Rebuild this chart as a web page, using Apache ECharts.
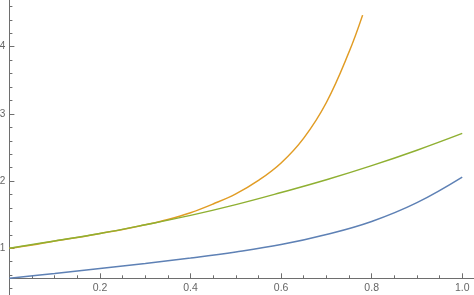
<!DOCTYPE html>
<html>
<head>
<meta charset="utf-8">
<script src="https://cdn.jsdelivr.net/npm/echarts@6/dist/echarts.min.js"></script>
<style>
html,body{margin:0;padding:0;background:#fff;}
#c{width:474px;height:295px;}
</style>
</head>
<body>
<div id="c"></div>
<script>
const xTicks = [0.2, 0.4, 0.6, 0.8, 1.0];
const yTicks = [1, 2, 3, 4];

const blueX   = [0, 0.1, 0.2, 0.3, 0.4, 0.5, 0.6, 0.7, 0.8, 0.9, 1.0];
const blueY   = [0.553, 0.625, 0.70, 0.775, 0.855, 0.945, 1.055, 1.205, 1.40, 1.68, 2.06];

const orangeX = [0, 0.05, 0.1, 0.15, 0.2, 0.25, 0.3, 0.35, 0.4, 0.45, 0.5, 0.55, 0.6, 0.65, 0.7, 0.75, 0.78];
const orangeY = [1.0, 1.05, 1.11, 1.16, 1.22, 1.28, 1.35, 1.43, 1.53, 1.66, 1.81, 2.01, 2.27, 2.64, 3.17, 3.92, 4.47];

const greenX  = [0, 0.1, 0.2, 0.3, 0.4, 0.5, 0.6, 0.7, 0.8, 0.9, 1.0];
const greenY  = [1.0, 1.11, 1.22, 1.35, 1.49, 1.65, 1.83, 2.02, 2.23, 2.46, 2.71];

const pairs = (xs, ys) => xs.map((x, i) => [x, ys[i]]);

const axisColor = '#6e6e6e';
const labelColor = '#666';
const font = 'Liberation Sans, Arial, sans-serif';

const chart = echarts.init(document.getElementById('c'), null, {renderer: 'canvas'});
chart.setOption({
  animation: false,
  backgroundColor: '#fff',
  grid: {left: 9.4, top: -20.5, width: 543.4, height: 336, containLabel: false, outerBoundsMode: 'none'},
  xAxis: {
    type: 'value', min: 0, max: 1.2, interval: 0.2,
    offset: -37.2,
    axisLine: {onZero: false, lineStyle: {color: axisColor, width: 1}},
    axisTick: {inside: true, length: 5, lineStyle: {color: axisColor}},
    minorTick: {show: true, splitNumber: 4, length: 3, lineStyle: {color: axisColor}},
    splitLine: {show: false},
    axisLabel: {
      margin: 4, color: labelColor, fontSize: 10.5, fontFamily: font,
      formatter: v => xTicks.some(t => Math.abs(t - v) < 1e-6) ? v.toFixed(1) : ''
    }
  },
  yAxis: {
    type: 'value', min: 0, max: 5, interval: 1,
    axisLine: {onZero: false, lineStyle: {color: axisColor, width: 1}},
    axisTick: {inside: true, length: 5, lineStyle: {color: axisColor}},
    minorTick: {show: true, splitNumber: 5, length: 3, lineStyle: {color: axisColor}},
    splitLine: {show: false},
    axisLabel: {
      margin: 4, color: labelColor, fontSize: 10, fontFamily: font,
      formatter: v => yTicks.includes(Math.round(v)) && Math.abs(v - Math.round(v)) < 1e-6 ? String(Math.round(v)) : ''
    }
  },
  series: [
    {type: 'line', data: pairs(blueX, blueY), showSymbol: false, smooth: 0.4,
     lineStyle: {color: '#5E81B5', width: 1.5}, itemStyle: {color: '#5E81B5'}},
    {type: 'line', data: pairs(orangeX, orangeY), showSymbol: false, smooth: 0.4,
     lineStyle: {color: '#E19C24', width: 1.5}, itemStyle: {color: '#E19C24'}},
    {type: 'line', data: pairs(greenX, greenY), showSymbol: false, smooth: 0.4,
     lineStyle: {color: '#8FB032', width: 1.5}, itemStyle: {color: '#8FB032'}}
  ]
});
</script>
</body>
</html>
